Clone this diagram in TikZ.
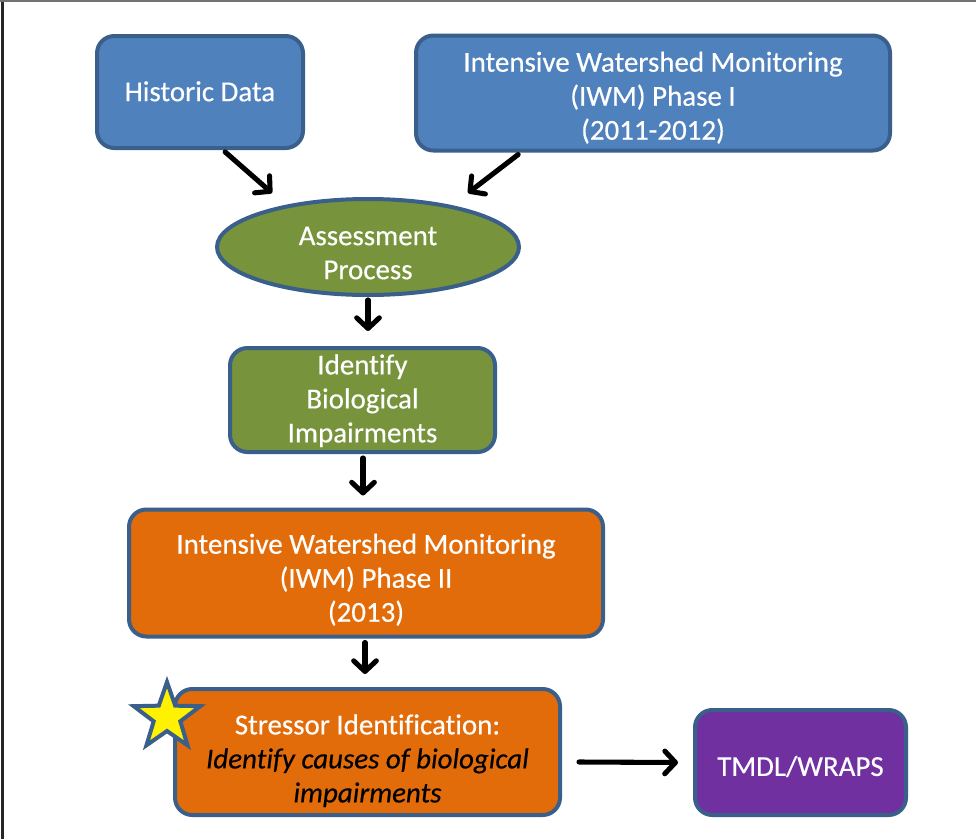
\documentclass[tikz,border=0pt]{standalone}
\usepackage{fontspec}
\setmainfont{Carlito}[Ligatures=NoCommon,FakeBold=0.4]
\usetikzlibrary{arrows.meta,shapes.geometric,calc}
\definecolor{bdr}{HTML}{3A5F8B}
\definecolor{bluef}{HTML}{4F81BD}
\definecolor{greenf}{HTML}{77933C}
\definecolor{orangef}{HTML}{E36C0A}
\definecolor{purplef}{HTML}{7030A0}
\newdimen\pxu \pxu=0.75pt
\begin{document}
\begin{tikzpicture}[x=0.75pt,y=-0.75pt,
  box/.style={draw=bdr, line width=3pt, rounded corners=13pt, inner sep=0pt},
  lbl/.style={align=center, text=white, font=\fontsize{21.7}{25.5}\selectfont, inner sep=0pt},
  arr/.style={line width=3.8pt, line cap=round,
    -{Straight Barb[length=8pt,width=17pt,line cap=round,line join=round]}}]
\useasboundingbox (0,0) rectangle (976,839);
\draw[black!85, line width=1.5pt] (2.5,0) -- (2.5,839);
\draw[black!55, line width=1.5pt] (0,1) -- (976,1);

\node[box, fill=bluef, minimum width=206\pxu, minimum height=112\pxu,
  label={[lbl, yshift=0.5pt]center:Historic Data}] (hist) at (200,92) {};
\node[box, fill=bluef, minimum width=474\pxu, minimum height=115\pxu,
  label={[lbl, yshift=-3.5pt]center:{Intensive Watershed Monitoring\\(IWM) Phase I\\(2011-2012)}}] (iwm1) at (653,93) {};
\node[ellipse, draw=bdr, line width=3pt, fill=greenf, inner sep=0pt,
  minimum width=302\pxu, minimum height=96\pxu,
  label={[lbl, yshift=-4.5pt]center:{Assessment\\Process}}] (assess) at (368,247) {};
\node[box, fill=greenf, minimum width=265\pxu, minimum height=104\pxu,
  label={[lbl, yshift=-0.5pt]center:{Identify\\Biological\\Impairments}}] (ident) at (362.5,400) {};
\node[box, fill=orangef, minimum width=474\pxu, minimum height=127\pxu,
  label={[lbl, yshift=-5pt]center:{Intensive Watershed Monitoring\\(IWM) Phase II\\(2013)}}] (iwm2) at (366,573) {};
\node[box, fill=orangef, minimum width=385\pxu, minimum height=126\pxu,
  label={[lbl, yshift=-6.5pt]center:{Stressor Identification:\\\textcolor{black}{\itshape Identify causes of biological}\\\textcolor{black}{\itshape impairments}}}] (stress) at (367.5,752) {};
\node[box, fill=purplef, minimum width=211\pxu, minimum height=105\pxu,
  label={[lbl, yshift=-3pt]center:TMDL/WRAPS}] (tmdl) at (800.5,762.5) {};
\node[star, star points=5, star point ratio=2.5, draw=bdr, fill=yellow, line width=3pt,
  inner sep=0pt, minimum size=70\pxu] (star) at (167,717) {};

\draw[arr] ($(hist.south west)!0.62!(hist.south east)+(0,2)$) -- ($(assess.north)+(-96,-4)$);
\draw[arr] ($(iwm1.south west)!0.218!(iwm1.south east)+(0,2)$) -- ($(assess.north)+(100,-4)$);
\draw[arr] ($(assess.south)+(0,3)$) -- ($(ident.north)+(5.5,-15)$);
\draw[arr] ($(ident.south)+(0.5,4)$) -- ($(iwm2.north)+(-3,-12)$);
\draw[arr] ($(iwm2.south)+(-1,4)$) -- ($(stress.north)+(-2.5,-13)$);
\draw[arr] ($(stress.east)+(17,10)$) -- ($(tmdl.west)+(-15,0)$);
\end{tikzpicture}
\end{document}
